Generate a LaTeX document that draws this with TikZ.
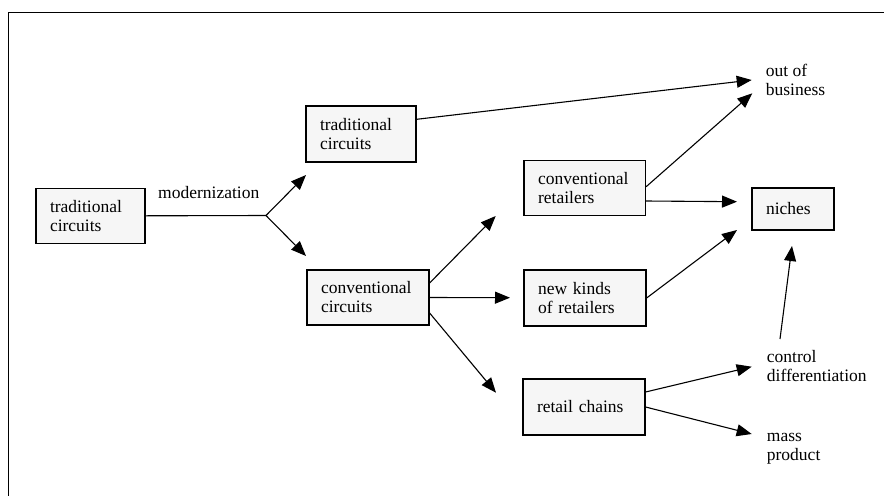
\documentclass[tikz,border=0pt]{standalone}
\usepackage{fontspec}
\setmainfont{Liberation Serif}
\usetikzlibrary{arrows.meta,calc}
\newcommand\diafont{\fontsize{17.5}{19}\selectfont}
\begin{document}
\begin{tikzpicture}[x=1pt,y=-1pt,
  box/.style={draw=black, line width=1.2pt, fill=gray!7, inner xsep=14pt, inner ysep=2pt, align=left, font=\diafont},
  lbl/.style={inner sep=0pt, align=left, anchor=west, font=\diafont},
  arr/.style={line width=1.1pt, -{Triangle[length=15pt,width=12pt]}},
  ln/.style={line width=1.1pt}]
\useasboundingbox (0,0) rectangle (884,496);
\draw[line width=1pt] (884,12) -- (8,12) -- (8,496);

% boxes
\node[box, minimum width=109pt, minimum height=55pt, text width=81pt] (tc1) at (90.5,215.8) {traditional\\circuits};
\node[box, minimum width=110pt, minimum height=56pt, text width=82pt] (tc2) at (361,134) {traditional\\circuits};
\node[box, minimum width=122pt, minimum height=55pt, text width=94pt] (cc) at (368,297.5) {conventional\\circuits};
\node[box, minimum width=121.5pt, minimum height=55pt, text width=93.5pt] (cr) at (584.8,188.3) {conventional\\retailers};
\node[box, minimum width=82pt, minimum height=42pt, text width=54pt] (ni) at (793,209) {niches};
\node[box, minimum width=122pt, minimum height=56pt, text width=94pt] (nk) at (585,298) {new kinds\\of retailers};
\node[box, minimum width=122pt, minimum height=56pt, text width=94pt] (rc) at (584,407) {retail chains};

% labels
\node[lbl] (mz) at (158,193) {modernization};
\node[lbl] (ob) at (765.7,80) {out of\\business};
\node[lbl] (cd) at (766.7,366) {control\\differentiation};
\node[lbl] (mp) at (766.7,449) {mass\\product};

% coordinates
\coordinate (f) at (266,215.5);
\coordinate (t1) at (306,175);
\coordinate (t2) at (306,256);
\coordinate (t3) at (751.7,80);
\coordinate (t4) at (752.3,93.3);
\coordinate (t5) at (495.7,216);
\coordinate (t6) at (510,297.7);
\coordinate (t7) at (496,392.7);
\coordinate (t8) at (737,201.7);
\coordinate (t9) at (737,230);
\coordinate (t10) at (792,246);
\coordinate (s10) at (780,339);
\coordinate (t11) at (751.7,366.7);
\coordinate (t12) at (751.7,434);

% connectors
\draw[ln] (tc1.east) -- (f);
\draw[arr] (f) -- (t1);
\draw[arr] (f) -- (t2);
\draw[arr] ($(tc2.east)+(0,-14.7)$) -- (t3);
\draw[arr] ($(cr.east)+(0,-1.6)$) -- (t4);
\draw[arr] ($(cr.east)+(0,12.7)$) -- (t8);
\draw[arr] ($(cc.east)+(0,-14.5)$) -- (t5);
\draw[arr] (cc.east) -- (t6);
\draw[arr] ($(cc.east)+(0,15.5)$) -- (t7);
\draw[arr] (nk.east) -- (t9);
\draw[arr] (s10) -- (t10);
\draw[arr] ($(rc.east)+(0,-15)$) -- (t11);
\draw[arr] (rc.east) -- (t12);
\end{tikzpicture}
\end{document}
